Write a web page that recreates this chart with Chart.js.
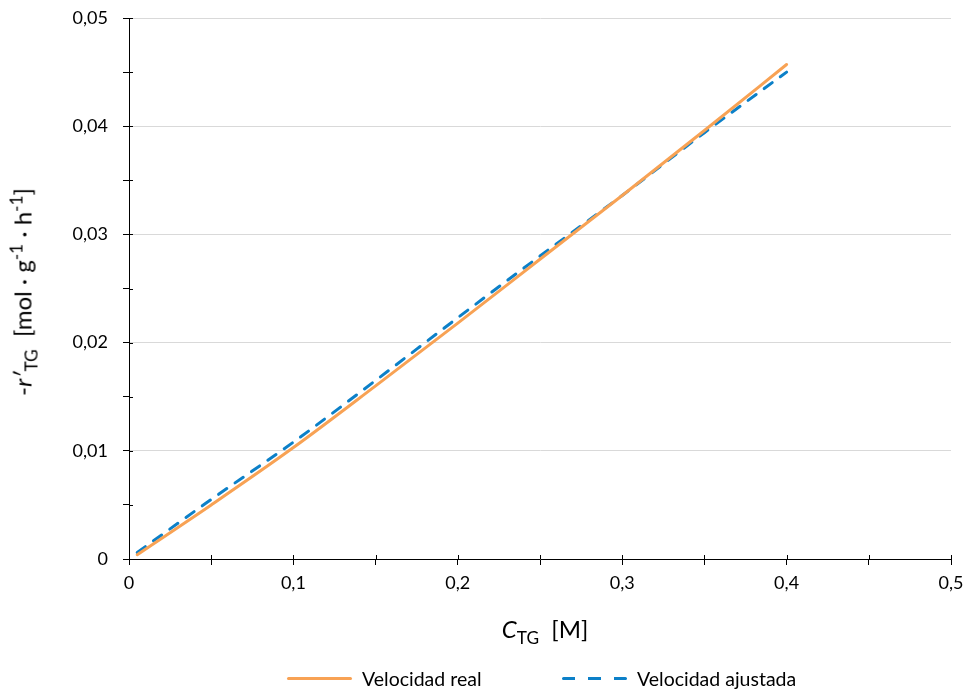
<!DOCTYPE html>
<html>
<head>
<meta charset="utf-8">
<script src="https://cdn.jsdelivr.net/npm/chart.js@4.4.1/dist/chart.umd.min.js"></script>
<style>
  html, body { margin: 0; padding: 0; background: #fff; }
  #wrap { position: relative; width: 965px; height: 690px; font-family: Lato, "Open Sans", sans-serif; color: #000; }
  #c { position: absolute; left: 0; top: 0; }
  .ytitle { position: absolute; left: 22px; top: 292px; transform: translate(-50%, -50%) rotate(-90deg); white-space: nowrap; font-size: 24px; }
  .xtitle { position: absolute; left: 545px; top: 628px; transform: translate(-50%, -50%); white-space: nowrap; font-size: 24px; }
  sub, sup { font-size: 0.72em; line-height: 0; }
  sub { vertical-align: -0.35em; }
  sup { vertical-align: 0.55em; }
  .legend { position: absolute; top: 667px; left: 0; width: 965px; height: 24px; font-size: 19.5px; }
  .li { position: absolute; top: 0; display: flex; align-items: center; white-space: nowrap; height: 22px; }
  .sw { display: inline-block; width: 65px; height: 3px; margin-right: 10px; border-radius: 2px; }
  .sw.solid { background: #F8A254; }
  .sw.dash { background: repeating-linear-gradient(90deg, #0C80C8 0 13px, transparent 13px 26px); }
</style>
</head>
<body>
<div id="wrap">
  <canvas id="c" width="965" height="690"></canvas>
  <div class="ytitle">-<i>r′</i><sub>TG</sub>&nbsp;&nbsp;[mol · g<sup>-1</sup> · h<sup>-1</sup>]</div>
  <div class="xtitle"><i>C</i><sub>TG</sub>&nbsp;&nbsp;[M]</div>
  <div class="legend">
    <div class="li" style="left:287px"><span class="sw solid"></span><span id="lg0"></span></div>
    <div class="li" style="left:562px"><span class="sw dash"></span><span id="lg1"></span></div>
  </div>
</div>
<script>
// ---- data ----
const concentrations = [0.005, 0.05, 0.1, 0.15, 0.2, 0.25, 0.3, 0.35, 0.4];
const realRate       = [0.0004, 0.0050, 0.0103, 0.0160, 0.0218, 0.0277, 0.0336, 0.0396, 0.0457];
const fittedRate     = [0.0006, 0.0055, 0.0108, 0.0165, 0.0223, 0.0280, 0.0336, 0.0394, 0.0450];
const seriesNames    = ['Velocidad real', 'Velocidad ajustada'];
const xTickLabels    = ['0', '0,1', '0,2', '0,3', '0,4', '0,5'];
const yTickLabels    = ['0', '0,01', '0,02', '0,03', '0,04', '0,05'];

document.getElementById('lg0').textContent = seriesNames[0];
document.getElementById('lg1').textContent = seriesNames[1];

const isMajor = (v, step) => Math.abs(v / step - Math.round(v / step)) < 1e-6;

const innerTicks = {
  id: 'innerTicks',
  afterDraw(chart) {
    const xs = chart.scales.x, ys = chart.scales.y, ctx = chart.ctx;
    const a = chart.chartArea;
    ctx.save();
    ctx.strokeStyle = '#000';
    ctx.lineWidth = 1;
    xs.ticks.forEach(t => {
      const px = Math.round(xs.getPixelForValue(t.value)) + 0.5;
      ctx.beginPath();
      ctx.moveTo(px, a.bottom - 4);
      ctx.lineTo(px, a.bottom);
      ctx.stroke();
    });
    ys.ticks.forEach(t => {
      const py = Math.round(ys.getPixelForValue(t.value)) + 0.5;
      ctx.beginPath();
      ctx.moveTo(a.left, py);
      ctx.lineTo(a.left + 4, py);
      ctx.stroke();
    });
    ctx.restore();
  }
};

const tickFont = { family: 'Lato, "Open Sans", sans-serif', size: 18 };

new Chart(document.getElementById('c'), {
  type: 'line',
  data: {
    datasets: [
      {
        label: seriesNames[0],
        data: concentrations.map((x, i) => ({ x, y: realRate[i] })),
        borderColor: '#F8A254',
        borderWidth: 3,
        pointRadius: 0,
        cubicInterpolationMode: 'monotone',
        borderCapStyle: 'round',
        fill: false
      },
      {
        label: seriesNames[1],
        data: concentrations.map((x, i) => ({ x, y: fittedRate[i] })),
        borderColor: '#0C80C8',
        borderWidth: 3,
        borderDash: [10, 10],
        borderCapStyle: 'round',
        pointRadius: 0,
        cubicInterpolationMode: 'monotone',
        fill: false
      }
    ]
  },
  options: {
    responsive: false,
    animation: false,
    layout: { padding: { left: 0, right: 14, top: 18, bottom: 0 } },
    plugins: { legend: { display: false }, tooltip: { enabled: false } },
    scales: {
      x: {
        type: 'linear',
        min: 0, max: 0.5,
        afterFit: s => { s.height = 131; s.paddingLeft = 0; s.paddingRight = 0; },
        border: { display: true, color: '#000', width: 1 },
        grid: { display: true, drawOnChartArea: false, drawTicks: true, tickLength: 6, tickColor: '#000' },
        ticks: {
          stepSize: 0.05,
          autoSkip: false,
          maxRotation: 0,
          padding: 7,
          color: '#000',
          font: tickFont,
          callback: v => isMajor(v, 0.1) ? xTickLabels[Math.round(v / 0.1)] : ''
        }
      },
      y: {
        type: 'linear',
        min: 0, max: 0.05,
        afterFit: s => { s.width = 129; s.paddingTop = 0; s.paddingBottom = 0; },
        border: { display: true, color: '#000', width: 1 },
        grid: {
          display: true,
          drawTicks: true,
          tickLength: 6,
          tickColor: '#000',
          lineWidth: 1,
          color: c => (c.tick && c.tick.value > 0 && isMajor(c.tick.value, 0.01)) ? '#D9D9D9' : 'rgba(0,0,0,0)'
        },
        ticks: {
          stepSize: 0.005,
          autoSkip: false,
          padding: 15,
          color: '#000',
          font: tickFont,
          callback: v => isMajor(v, 0.01) ? yTickLabels[Math.round(v / 0.01)] : ''
        }
      }
    }
  },
  plugins: [innerTicks]
});
</script>
</body>
</html>
